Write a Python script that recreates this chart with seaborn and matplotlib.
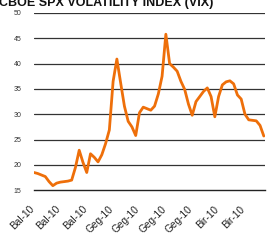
import matplotlib
matplotlib.use("Agg")
import matplotlib.pyplot as plt
import matplotlib.transforms as mtransforms
import seaborn as sns
import pandas as pd

# VIX daily closes (one point per trading day)
vix = [18.5, 18.3, 18.0, 17.7, 16.7, 15.9, 16.4, 16.6, 16.7, 16.8,
       17.0, 19.5, 22.9, 20.5, 18.5, 22.2, 21.5, 20.6, 22.0, 24.2,
       26.9, 36.5, 40.9, 36.2, 31.6, 28.6, 27.5, 25.8, 30.3, 31.4,
       31.1, 30.8, 31.6, 34.0, 37.5, 45.8, 40.0, 39.3, 38.5, 36.5,
       34.9, 32.0, 29.8, 32.5, 33.5, 34.5, 35.2, 33.5, 29.5, 33.5,
       35.8, 36.4, 36.6, 36.0, 33.8, 33.0, 30.0, 28.9, 28.8, 28.7,
       27.8, 25.7]
tick_labels = ["Bal-10", "Bal-10", "Bal-10", "Geg-10", "Geg-10",
               "Geg-10", "Geg-10", "Bir-10", "Bir-10"]
tick_step = 7
y_ticks = [15, 20, 25, 30, 35, 40, 45, 50]

df = pd.DataFrame({"day": range(len(vix)), "vix": vix})

sns.set_style("white")
plt.rcParams["font.family"] = ["Liberation Sans", "DejaVu Sans"]

fig = plt.figure(figsize=(2.72, 2.49), dpi=100)
ax = fig.add_axes([0.125, 0.236, 0.849, 0.712])

for v in y_ticks[1:]:
    ax.axhline(v, color="#333333", lw=0.9, zorder=1)

sns.lineplot(data=df, x="day", y="vix", color="#EE6F0A", lw=2.0, ax=ax, zorder=3)

ax.set_xlim(0, 61.3)
ax.set_ylim(15, 50)
ax.set_yticks(y_ticks)
ax.set_yticklabels([str(v) for v in y_ticks], fontsize=5, color="#333333")
ax.tick_params(axis="y", length=0, pad=9)

ticks = [i * tick_step for i in range(len(tick_labels))]
ax.set_xticks(ticks)
ax.set_xticklabels(tick_labels, rotation=45, ha="right", rotation_mode="anchor",
                   fontsize=7.3, color="#222222")
ax.tick_params(axis="x", direction="out", length=3, width=0.9, color="#222222", pad=7)
shift = mtransforms.ScaledTranslation(-5 / 100, 0, fig.dpi_scale_trans)
for lbl in ax.get_xticklabels():
    lbl.set_transform(lbl.get_transform() + shift)

for s in ["top", "left", "right"]:
    ax.spines[s].set_visible(False)
ax.spines["bottom"].set_color("#222222")
ax.spines["bottom"].set_linewidth(1.0)
ax.set_xlabel("")
ax.set_ylabel("")

fig.text(213 / 272, 1.012, "CBOE SPX VOLATILITY INDEX (VIX)", ha="right", va="top",
         fontsize=9.0, fontweight="bold", color="#111111")

fig.savefig("out.png", dpi=100)
